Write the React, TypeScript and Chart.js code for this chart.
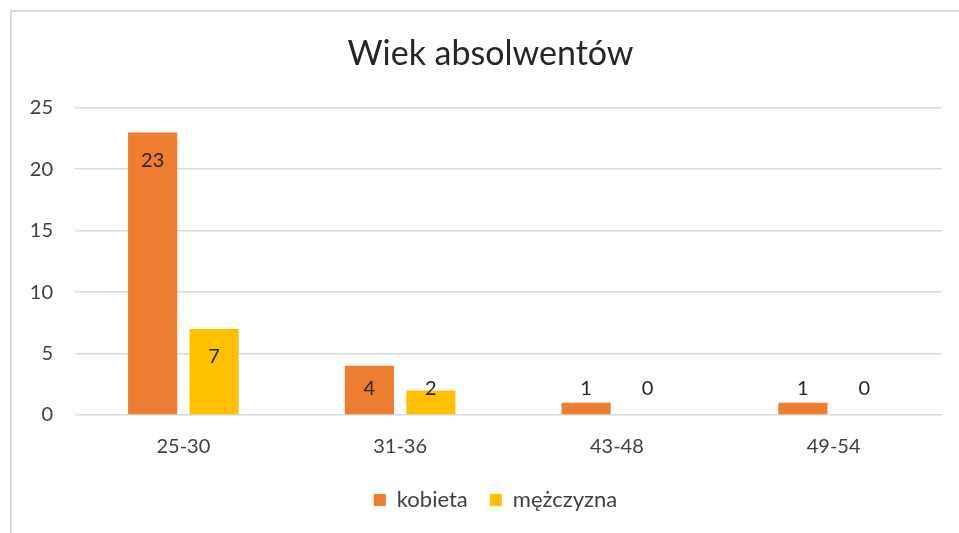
import React, { useEffect, useRef } from "react";
import { Chart, registerables } from "chart.js";

Chart.register(...registerables);

const categories = ["25-30", "31-36", "43-48", "49-54"];
const kobieta = [23, 4, 1, 1];
const mezczyzna = [7, 2, 0, 0];
const seriesNames = ["kobieta", "mężczyzna"];
const titleText = "Wiek absolwentów";

const FONT = "Lato";

const dataLabelPlugin = {
  id: "dataLabels",
  afterDatasetsDraw(chart: any) {
    const { ctx } = chart;
    const yScale = chart.scales.y;
    const y0 = yScale.getPixelForValue(0);
    ctx.save();
    ctx.font = `20px ${FONT}`;
    ctx.fillStyle = "#262626";
    ctx.textAlign = "center";
    ctx.textBaseline = "middle";
    chart.data.datasets.forEach((ds: any, di: number) => {
      const meta = chart.getDatasetMeta(di);
      meta.data.forEach((bar: any, i: number) => {
        const v = ds.data[i];
        const top = yScale.getPixelForValue(v);
        const cy = Math.min(top + 28, y0 - 26);
        ctx.fillText(String(v), bar.x, cy);
      });
    });
    ctx.restore();
  },
};

// Shift title and legend boxes slightly to match the centring of the original frame
const boxShiftPlugin = {
  id: "boxShift",
  afterLayout(chart: any) {
    if (chart.titleBlock) {
      chart.titleBlock.left += 5;
      chart.titleBlock.right += 5;
    }
    if (chart.legend) {
      chart.legend.left += 10;
      chart.legend.right += 10;
    }
  },
};

export default function App() {
  const ref = useRef<HTMLCanvasElement>(null);
  useEffect(() => {
    if (!ref.current) return;
    const chart = new Chart(ref.current, {
      type: "bar",
      data: {
        labels: categories,
        datasets: [
          { label: seriesNames[0], data: kobieta, backgroundColor: "#ED7D31", borderWidth: 0 },
          { label: seriesNames[1], data: mezczyzna, backgroundColor: "#FFC000", borderWidth: 0 },
        ],
      },
      options: {
        responsive: false,
        animation: false,
        layout: { padding: { left: 29, right: 17, top: 12, bottom: 12 } },
        datasets: { bar: { categoryPercentage: 0.567, barPercentage: 0.8 } },
        plugins: {
          title: {
            display: true,
            text: titleText,
            color: "#262626",
            font: { family: FONT, size: 34, weight: "normal", lineHeight: 1.2 },
            padding: { top: 22, bottom: 33 },
          },
          legend: {
            position: "bottom",
            labels: {
              boxWidth: 12,
              boxHeight: 12,
              padding: 22,
              color: "#404040",
              font: { family: FONT, size: 22 },
            },
          },
          tooltip: { enabled: false },
        },
        scales: {
          x: {
            grid: { display: false, drawTicks: false },
            border: { display: false },
            ticks: { color: "#404040", font: { family: FONT, size: 20 }, padding: 20 },
            afterFit(scale: any) {
              scale.height = 52;
            },
          },
          y: {
            min: 0,
            max: 25,
            ticks: { stepSize: 5, color: "#404040", font: { family: FONT, size: 20 }, padding: 22 },
            grid: { color: "#D9D9D9", lineWidth: 1.5, drawTicks: false },
            border: { display: false },
            afterFit(scale: any) {
              scale.width = 46;
            },
          },
        },
      },
      plugins: [dataLabelPlugin, boxShiftPlugin],
    });
    return () => chart.destroy();
  }, []);

  return (
    <div style={{ position: "fixed", left: 0, top: 0, width: 959, height: 533, background: "#fff" }}>
      <canvas ref={ref} width={959} height={533} style={{ position: "absolute", left: 0, top: 0 }} />
      <div
        style={{
          position: "absolute",
          left: 10,
          top: 10,
          right: 0,
          bottom: 0,
          borderTop: "2px solid #D9D9D9",
          borderLeft: "2px solid #D9D9D9",
          pointerEvents: "none",
        }}
      />
    </div>
  );
}
